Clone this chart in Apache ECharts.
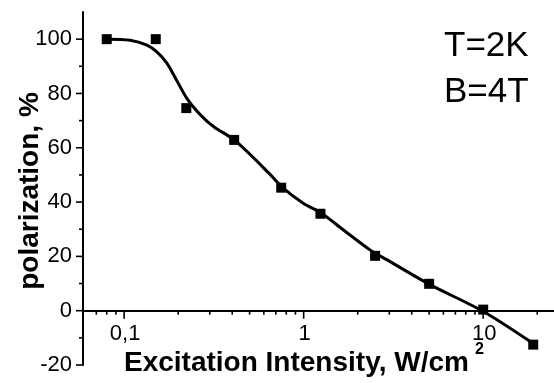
<!DOCTYPE html>
<html>
<head>
<meta charset="utf-8">
<script src="https://cdn.jsdelivr.net/npm/echarts@6/dist/echarts.min.js"></script>
<style>
  html, body { margin: 0; padding: 0; background: #fff; }
  #chart { width: 554px; height: 383px; }
</style>
</head>
<body>
<div id="chart"></div>
<script>
// measured points (excitation intensity W/cm2, polarization %)
const pointX = [0.08, 0.15, 0.222, 0.41, 0.75, 1.24, 2.5, 5.0, 10, 19.0];
const pointY = [100, 100, 74.6, 62.9, 45.3, 35.7, 20.2, 9.9, 0.4, -12.5];

// fitted curve
const fitX = [0.08, 0.108, 0.134, 0.152, 0.173, 0.196, 0.223, 0.254, 0.289, 0.32, 0.417, 0.648, 0.769, 0.994, 1.258, 1.66, 2.34, 2.9, 5.05, 9.96, 18.9];
const fitY = [100, 99.6, 97.8, 95.3, 91.2, 84.9, 78.3, 73.5, 69.8, 67.5, 62.5, 50.3, 45.1, 39.6, 35.9, 29.8, 22.4, 18.8, 9.6, -0.2, -12];

// axis ticks and labels
const xMajorTicks = [0.1, 1, 10];
const xTickLabels = ['0,1', '1', '10'];
const xMinorTicks = [0.07, 0.08, 0.09, 0.2, 0.3, 0.4, 0.5, 0.6, 0.7, 0.8, 0.9, 2, 3, 4, 5, 6, 7, 8, 9, 20];
const yMajorTicks = [-20, 0, 20, 40, 60, 80, 100];
const yMinorTicks = [-10, 10, 30, 50, 70, 90];

const FONT = '"Liberation Sans", Arial, sans-serif';
const X_MIN = 0.059, X_MAX = 24.8;

const el = document.getElementById('chart');
const chart = echarts.init(el, null, { renderer: 'canvas' });

chart.setOption({
  backgroundColor: '#fff',
  animation: false,
  grid: { left: 83, right: 0, top: 12, bottom: 18, outerBoundsMode: 'none' },
  xAxis: {
    type: 'log',
    logBase: 10,
    min: X_MIN,
    max: X_MAX,
    axisLine: { onZero: true, lineStyle: { color: '#000', width: 2 } },
    axisTick: { show: false },
    splitLine: { show: false },
    axisLabel: { show: false },
  },
  yAxis: {
    type: 'value',
    min: -20,
    max: 110,
    interval: 20,
    axisLine: { show: true, onZero: false, lineStyle: { color: '#000', width: 2 } },
    axisTick: { show: false },
    splitLine: { show: false },
    axisLabel: {
      color: '#000',
      fontSize: 22,
      fontFamily: FONT,
      margin: 11,
      showMaxLabel: false,
    },
  },
  series: [
    {
      type: 'scatter',
      symbol: 'rect',
      symbolSize: 10,
      itemStyle: { color: '#000', opacity: 1 },
      z: 2,
      data: pointX.map((x, i) => [x, pointY[i]]),
    },
    {
      type: 'line',
      smooth: 0.3,
      showSymbol: false,
      lineStyle: { color: '#000', width: 3 },
      z: 3,
      data: fitX.map((x, i) => [x, fitY[i]]),
    },
  ],
});

// ticks and x labels placed from the axis scales
const toPx = (x, y) => chart.convertToPixel({ gridIndex: 0 }, [x, y]);
const graphics = [];
const tick = (x1, y1, x2, y2) => graphics.push({
  type: 'line',
  shape: { x1, y1, x2, y2 },
  style: { stroke: '#000', lineWidth: 1.6 },
  z: 10,
});
const text = (str, x, y, size, weight, align, vAlign) => graphics.push({
  type: 'text',
  x, y,
  style: {
    text: str,
    fill: '#000',
    font: `${weight} ${size}px ${FONT}`,
    align: align || 'left',
    verticalAlign: vAlign || 'middle',
  },
  z: 10,
});

xMajorTicks.forEach((v, i) => {
  const p = toPx(v, 0);
  tick(p[0], p[1], p[0], p[1] + 8);
  text(xTickLabels[i], p[0] + 1, p[1] + 23, 22, 'normal', 'center');
});
xMinorTicks.forEach((v) => { const p = toPx(v, 0); tick(p[0], p[1], p[0], p[1] + 4); });
yMajorTicks.forEach((v) => { const p = toPx(X_MIN, v); tick(p[0] - 7, p[1], p[0], p[1]); });
yMinorTicks.forEach((v) => { const p = toPx(X_MIN, v); tick(p[0] - 4, p[1], p[0], p[1]); });

text('T=2K', 444, 46, 35, 'normal');
text('B=4T', 444, 92, 35, 'normal');
text('Excitation Intensity, W/cm', 124, 363, 28, 'bold');
text('2', 475, 342, 16, 'bold', 'left', 'top');
graphics.push({
  type: 'text',
  x: 30,
  y: 191,
  rotation: Math.PI / 2,
  style: {
    text: 'polarization, %',
    fill: '#000',
    font: `bold 28px ${FONT}`,
    align: 'center',
    verticalAlign: 'middle',
  },
  z: 10,
});

chart.setOption({ graphic: graphics });
</script>
</body>
</html>
